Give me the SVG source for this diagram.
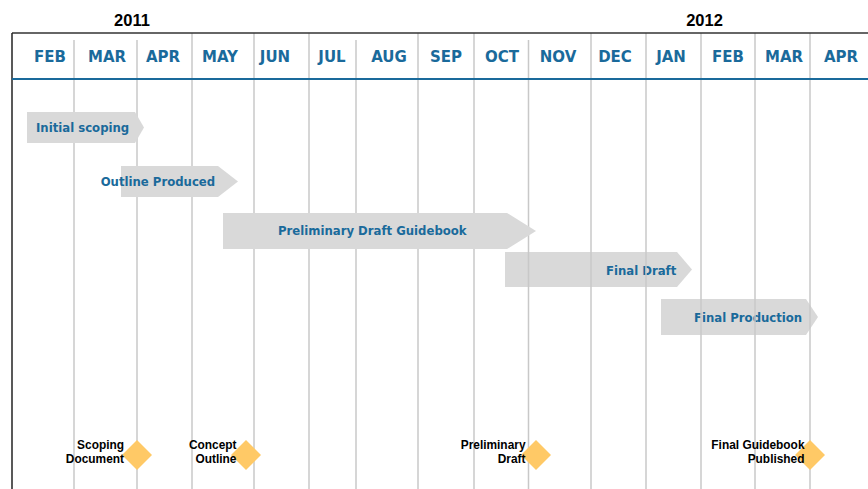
<svg xmlns="http://www.w3.org/2000/svg" width="868" height="489" viewBox="0 0 868 489">
<style>
.yr{font-family:"Liberation Sans",Arial,sans-serif;font-weight:bold;font-size:16.5px;fill:#000;text-anchor:middle}
.mo{font-family:"DejaVu Sans",Verdana,sans-serif;font-weight:bold;font-size:15px;fill:#1a6a9b;text-anchor:middle}
.bar{fill:#d9d9d9}
.bt{font-family:"DejaVu Sans",Verdana,sans-serif;font-weight:bold;font-size:11.7px;fill:#1a6a9b}
.grid line{stroke:#c8c8c8;stroke-width:1.5}
.dia{fill:#ffc966}
.ml{font-family:"Liberation Sans",Arial,sans-serif;font-weight:bold;font-size:11.9px;fill:#000;text-anchor:end}
</style>
<rect width="868" height="489" fill="#fff"/>
<g id="years">
<text class="yr" x="132" y="26">2011</text>
<text class="yr" x="704.5" y="26">2012</text>
</g>
<g id="months">
<text class="mo" x="50" y="62">FEB</text>
<text class="mo" x="107" y="62">MAR</text>
<text class="mo" x="163" y="62">APR</text>
<text class="mo" x="220" y="62">MAY</text>
<text class="mo" x="275" y="62">JUN</text>
<text class="mo" x="332" y="62">JUL</text>
<text class="mo" x="389" y="62">AUG</text>
<text class="mo" x="446" y="62">SEP</text>
<text class="mo" x="502" y="62">OCT</text>
<text class="mo" x="558" y="62">NOV</text>
<text class="mo" x="615" y="62">DEC</text>
<text class="mo" x="671" y="62">JAN</text>
<text class="mo" x="728" y="62">FEB</text>
<text class="mo" x="784" y="62">MAR</text>
<text class="mo" x="841" y="62">APR</text>
</g>
<g id="task-final-draft">
<polygon class="bar" points="505,252 677,252 692,269.5 677,287 505,287"/>
<text class="bt" x="606" y="274.5">Final Draft</text>
</g>
<g id="task-final-production">
<polygon class="bar" points="661,299 806,299 818,317 806,335 661,335"/>
<text class="bt" x="694" y="321.5">Final Production</text>
</g>
<g class="grid" id="grid">
<line x1="74" y1="40" x2="74" y2="489"/>
<line x1="137" y1="40" x2="137" y2="489"/>
<line x1="192" y1="33" x2="192" y2="489"/>
<line x1="254" y1="33" x2="254" y2="489"/>
<line x1="309" y1="33" x2="309" y2="489"/>
<line x1="356" y1="40" x2="356" y2="489"/>
<line x1="418" y1="33" x2="418" y2="489"/>
<line x1="474" y1="33" x2="474" y2="489"/>
<line x1="528.5" y1="40" x2="528.5" y2="489"/>
<line x1="591" y1="33" x2="591" y2="489"/>
<line x1="646" y1="33" x2="646" y2="489"/>
<line x1="701" y1="33" x2="701" y2="489"/>
<line x1="755" y1="33" x2="755" y2="489"/>
<line x1="810" y1="33" x2="810" y2="489"/>
</g>
<g id="frame">
<line x1="12" y1="33" x2="868" y2="33" stroke="#333" stroke-width="1.5"/>
<line x1="12" y1="33" x2="12" y2="489" stroke="#222" stroke-width="1.5"/>
<line x1="12" y1="79" x2="868" y2="79" stroke="#1a6a9b" stroke-width="2"/>
</g>
<g id="task-initial-scoping">
<polygon class="bar" points="27,112 135,112 144,127.5 135,143 27,143"/>
<text class="bt" x="36" y="132">Initial scoping</text>
</g>
<g id="task-outline-produced">
<polygon class="bar" points="121,166 218,166 238,181.5 218,197 121,197"/>
<text class="bt" x="100.7" y="186">Outline Produced</text>
</g>
<g id="task-preliminary-draft">
<polygon class="bar" points="223,213 507,213 536,231 507,249 223,249"/>
<text class="bt" x="278" y="235">Preliminary Draft Guidebook</text>
</g>
<g id="ms-scoping-document">
<polygon class="dia" points="137,440 152,455 137,470 122,455"/>
<text class="ml" x="124" y="449">Scoping</text>
<text class="ml" x="124" y="463">Document</text>
</g>
<g id="ms-concept-outline">
<polygon class="dia" points="246,440 261,455 246,470 231,455"/>
<text class="ml" x="236.5" y="449">Concept</text>
<text class="ml" x="236.5" y="463">Outline</text>
</g>
<g id="ms-preliminary-draft">
<polygon class="dia" points="536,440 551,455 536,470 521,455"/>
<text class="ml" x="525.5" y="449">Preliminary</text>
<text class="ml" x="525.5" y="463">Draft</text>
</g>
<g id="ms-final-guidebook">
<polygon class="dia" points="810,440 825,455 810,470 795,455"/>
<text class="ml" x="804.5" y="449">Final Guidebook</text>
<text class="ml" x="804.5" y="463">Published</text>
</g>
</svg>
